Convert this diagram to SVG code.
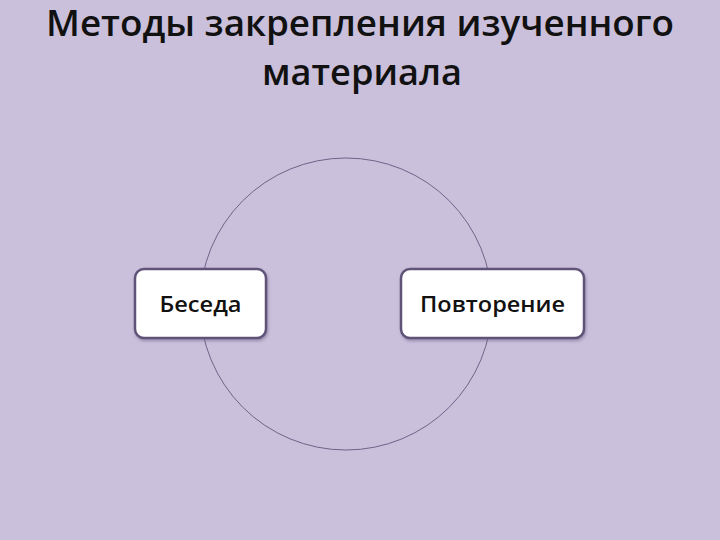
<svg xmlns="http://www.w3.org/2000/svg" width="720" height="540" viewBox="0 0 720 540">
<style>
.title{font-family:"Open Sans","Noto Sans","DejaVu Sans",sans-serif;font-size:36px;font-weight:600;fill:#111;text-anchor:middle}
.box{fill:#ffffff;stroke:#5f5378;stroke-width:2.5}
.lbl{font-family:"Open Sans","Noto Sans","DejaVu Sans",sans-serif;font-size:22px;font-weight:600;fill:#111;text-anchor:middle}
</style>
<defs>
<filter id="sh" x="-10%" y="-10%" width="130%" height="140%">
<feDropShadow dx="1" dy="2" stdDeviation="1.5" flood-color="#6a5c80" flood-opacity="0.5"/>
</filter>
</defs>
<rect width="720" height="540" fill="#cac0dc"/>
<text class="title" x="360" y="36" textLength="628" lengthAdjust="spacingAndGlyphs">Методы закрепления изученного</text>
<text class="title" x="362" y="85" textLength="200" lengthAdjust="spacingAndGlyphs">материала</text>
<g id="connectors">
<circle cx="346" cy="304" r="146" fill="none" stroke="#6e6488" stroke-width="1"/>
</g>
<g id="node-beseda">
<rect class="box" x="135" y="269" width="131" height="69" rx="9" filter="url(#sh)"/>
<text class="lbl" x="200.5" y="312" textLength="82" lengthAdjust="spacingAndGlyphs">Беседа</text>
</g>
<g id="node-povtorenie">
<rect class="box" x="401" y="269" width="183" height="69" rx="9" filter="url(#sh)"/>
<text class="lbl" x="492.5" y="312" textLength="145" lengthAdjust="spacingAndGlyphs">Повторение</text>
</g>
</svg>
